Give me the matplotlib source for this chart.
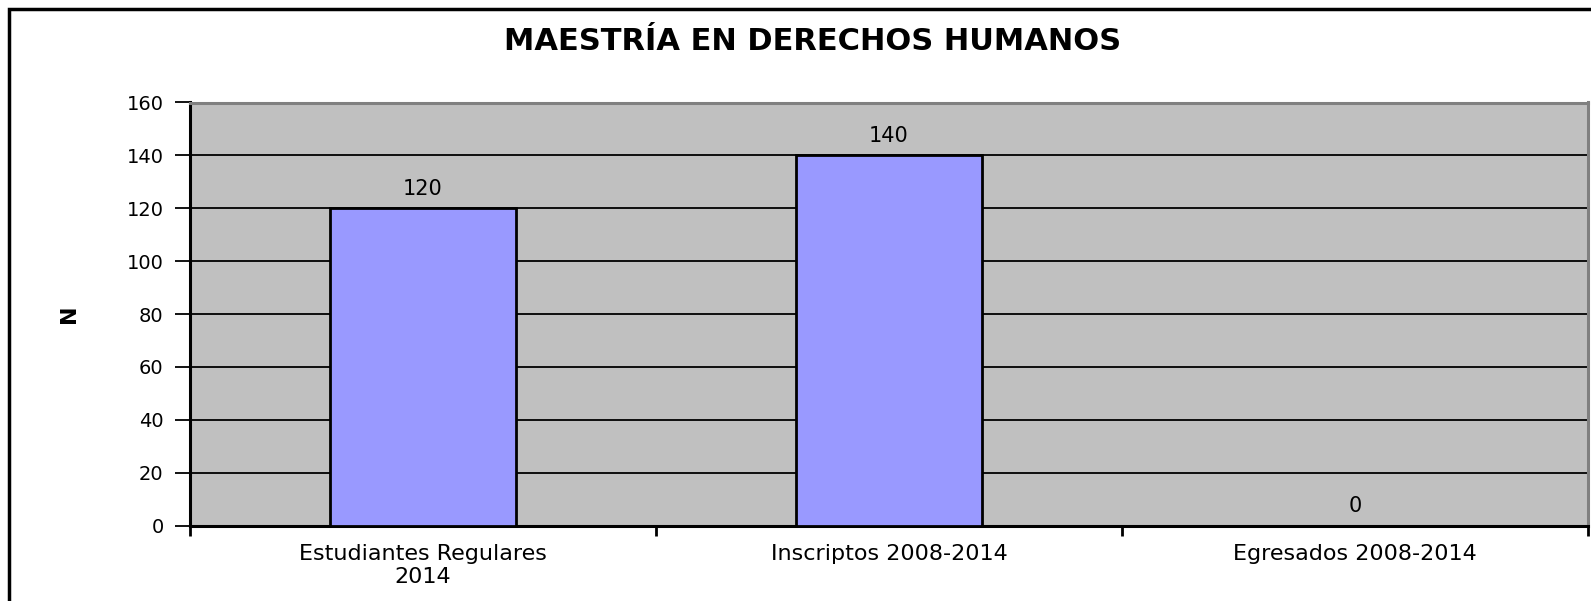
import matplotlib
matplotlib.use("Agg")
import matplotlib.pyplot as plt
from matplotlib.patches import Rectangle

categories = ["Estudiantes Regulares\n2014", "Inscriptos 2008-2014", "Egresados 2008-2014"]
values = [120, 140, 0]
yticks = [0, 20, 40, 60, 80, 100, 120, 140, 160]

# DejaVu es la más ancha disponible, se acerca a la Arial estirada del original
plt.rcParams["font.family"] = ["DejaVu Sans"]

W, H = 1591, 601
fig = plt.figure(figsize=(W / 100, H / 100), dpi=100)
ax = fig.add_axes([190 / W, 1 - 525.5 / H, (1588 - 190) / W, (525.5 - 102.5) / H])

ax.set_facecolor("#c0c0c0")
x = range(len(categories))
ax.bar(x, values, width=0.40, color="#9999ff", edgecolor="black", linewidth=2, zorder=3)
for xi, v in zip(x, values):
    ax.annotate(str(v), (xi, v), xytext=(0, 19), textcoords="offset pixels",
                ha="center", va="center", fontsize=15, zorder=4)

ax.set_xlim(-0.5, len(categories) - 0.5)
ax.set_ylim(0, 160)
ax.set_yticks(yticks)
ax.yaxis.grid(True, color="black", linewidth=1.3, zorder=1)
ax.set_axisbelow(True)

ax.set_xticks(x)
ax.set_xticklabels(categories, fontsize=16, linespacing=1.2)
ax.tick_params(axis="x", length=0, pad=13)
ax.set_xticks([i - 0.5 for i in range(len(categories) + 1)], minor=True)
ax.tick_params(axis="x", which="minor", length=7, width=2, direction="out")
ax.tick_params(axis="y", length=11, width=1.3, direction="out", labelsize=14, pad=8)

for s in ("left", "bottom"):
    ax.spines[s].set_color("black")
    ax.spines[s].set_linewidth(2.2)
for s in ("top", "right"):
    ax.spines[s].set_color("#808080")
    ax.spines[s].set_linewidth(2.2)

ax.set_ylabel("N", fontsize=16, fontweight="bold")
ax.yaxis.set_label_coords((79 - 190) / 1398, 0.5)
fig.text(813 / W, 1 - 42 / H, "MAESTRÍA EN DERECHOS HUMANOS",
         ha="center", va="center", fontsize=22, fontweight="bold")

# marco exterior del gráfico
fig.patches.append(Rectangle((9 / W, -0.1), 1.1, 1 - 9 / H + 0.1,
                             transform=fig.transFigure, fill=False,
                             edgecolor="black", linewidth=2.5))

fig.savefig("out.png", dpi=100)
